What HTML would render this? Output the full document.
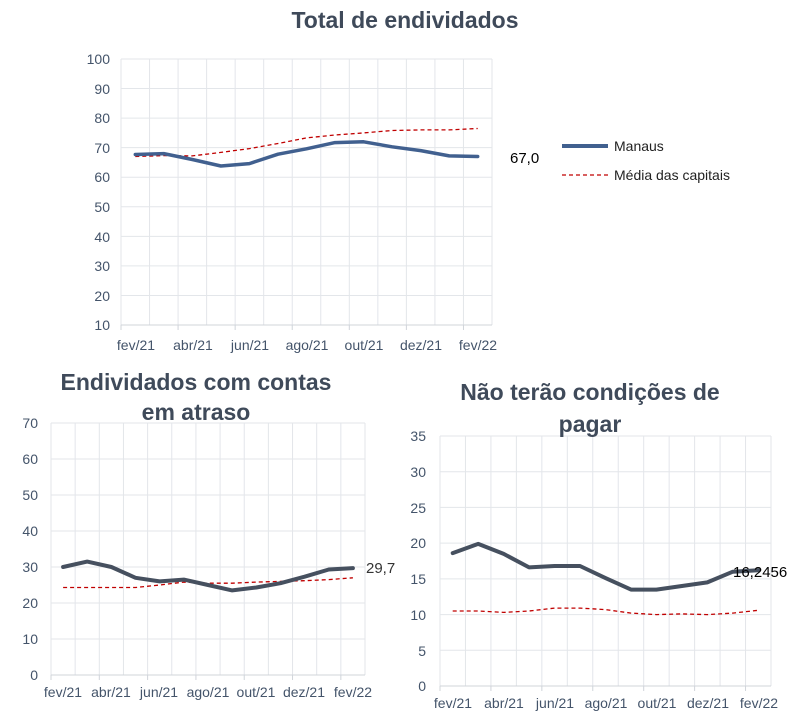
<!DOCTYPE html>
<html><head><meta charset="utf-8"><style>
html,body{margin:0;padding:0;background:#fff;}
svg{display:block;font-family:"Liberation Sans",sans-serif;}
.t{font-weight:bold;fill:#3F4A5A;font-size:23px;text-anchor:middle;}
.ax{fill:#44546A;font-size:14px;}
</style></head><body>
<svg id="s" width="805" height="725" viewBox="0 0 805 725">
<g id="grid"></g>
<g id="lines"></g>
<text class="t" x="405" y="28">Total de endividados</text>
<text class="t" x="196" y="390">Endividados  com contas</text>
<text class="t" x="196" y="420">em atraso</text>
<text class="t" x="590" y="400">Não terão condições de</text>
<text class="t" x="590" y="432">pagar</text>
<g class="ax" text-anchor="end">
<text x="110" y="64">100</text><text x="110" y="94">90</text><text x="110" y="123">80</text><text x="110" y="153">70</text><text x="110" y="182">60</text><text x="110" y="212">50</text><text x="110" y="242">40</text><text x="110" y="271">30</text><text x="110" y="301">20</text><text x="110" y="330">10</text>
<text x="38" y="428">70</text><text x="38" y="464">60</text><text x="38" y="500">50</text><text x="38" y="536">40</text><text x="38" y="572">30</text><text x="38" y="608">20</text><text x="38" y="644">10</text><text x="38" y="680">0</text>
<text x="426" y="441">35</text><text x="426" y="477">30</text><text x="426" y="513">25</text><text x="426" y="548">20</text><text x="426" y="584">15</text><text x="426" y="620">10</text><text x="426" y="656">5</text><text x="426" y="691">0</text>
</g>
<g class="ax" text-anchor="middle">
<text x="136" y="350">fev/21</text><text x="193" y="350">abr/21</text><text x="250" y="350">jun/21</text><text x="307" y="350">ago/21</text><text x="364" y="350">out/21</text><text x="421" y="350">dez/21</text><text x="478" y="350">fev/22</text>
<text x="63" y="697">fev/21</text><text x="111" y="697">abr/21</text><text x="159" y="697">jun/21</text><text x="208" y="697">ago/21</text><text x="256" y="697">out/21</text><text x="304" y="697">dez/21</text><text x="353" y="697">fev/22</text>
<text x="453" y="708">fev/21</text><text x="504" y="708">abr/21</text><text x="555" y="708">jun/21</text><text x="606" y="708">ago/21</text><text x="657" y="708">out/21</text><text x="708" y="708">dez/21</text><text x="759" y="708">fev/22</text>
</g>
<text x="510" y="163" font-size="15" fill="#000">67,0</text>
<text x="366" y="573" font-size="15" fill="#333">29,7</text>
<text x="733" y="577" font-size="15" fill="#000">16,2456</text>
<line x1="562" y1="146" x2="608" y2="146" stroke="#41608F" stroke-width="4"/>
<line x1="562" y1="175" x2="608" y2="175" stroke="#C00000" stroke-width="1.3" stroke-dasharray="4,3"/>
<text x="614" y="151" font-size="14" fill="#222">Manaus</text>
<text x="614" y="180" font-size="14" fill="#222">Média das capitais</text>
</svg>
<script>
var NS="http://www.w3.org/2000/svg";
function el(p,n,a){var e=document.createElementNS(NS,n);for(var k in a)e.setAttribute(k,a[k]);p.appendChild(e);return e;}
var G=document.getElementById('grid'),L=document.getElementById('lines');
function chart(l,r,top,bot,vmin,vmax,step,m,d,mc,mw){
 var cw=(r-l)/13;
 for(var i=0;i<=13;i++)el(G,'line',{x1:l+cw*i,x2:l+cw*i,y1:top,y2:bot,stroke:'#E3E6EA','stroke-width':1});
 for(var v=vmin;v<=vmax+1e-6;v+=step){var y=bot-(v-vmin)/(vmax-vmin)*(bot-top);el(G,'line',{x1:l,x2:r,y1:y,y2:y,stroke:'#E3E6EA','stroke-width':1});}
 el(G,'line',{x1:l,x2:r,y1:bot,y2:bot,stroke:'#D0D4DA'});
 for(var i=0;i<=13;i+=2)el(G,'line',{x1:l+cw*i,x2:l+cw*i,y1:bot,y2:bot+5,stroke:'#D0D4DA'});
 function pts(a){return a.map(function(v,i){return (l+cw*(i+0.5)).toFixed(1)+','+(bot-(v-vmin)/(vmax-vmin)*(bot-top)).toFixed(1);}).join(' ');}
 el(L,'polyline',{points:pts(d),fill:'none',stroke:'#C00000','stroke-width':1.3,'stroke-dasharray':'4,3'});
 el(L,'polyline',{points:pts(m),fill:'none',stroke:mc,'stroke-width':mw,'stroke-linejoin':'round','stroke-linecap':'round'});
}
chart(121,492,59,325,10,100,10,[67.7,68,66,63.8,64.6,67.8,69.6,71.7,72,70.3,69,67.2,67.0],[67,67.3,67.2,68.4,69.7,71.4,73.3,74.3,75,75.8,76,76,76.5],'#41608F',3.5);
chart(51,365,423,675,0,70,10,[30,31.5,30,27,26,26.5,25,23.5,24.3,25.5,27.3,29.3,29.7],[24.3,24.3,24.3,24.3,25,25.8,25.5,25.5,25.8,26,26.2,26.5,27],'#46505F',4);
chart(440,771,436,686,0,35,5,[18.6,19.9,18.5,16.6,16.8,16.8,15.1,13.5,13.5,14,14.5,16,16.2],[10.5,10.5,10.3,10.5,10.9,10.9,10.7,10.2,10,10.1,10,10.2,10.6],'#46505F',4);
</script>
</body></html>
